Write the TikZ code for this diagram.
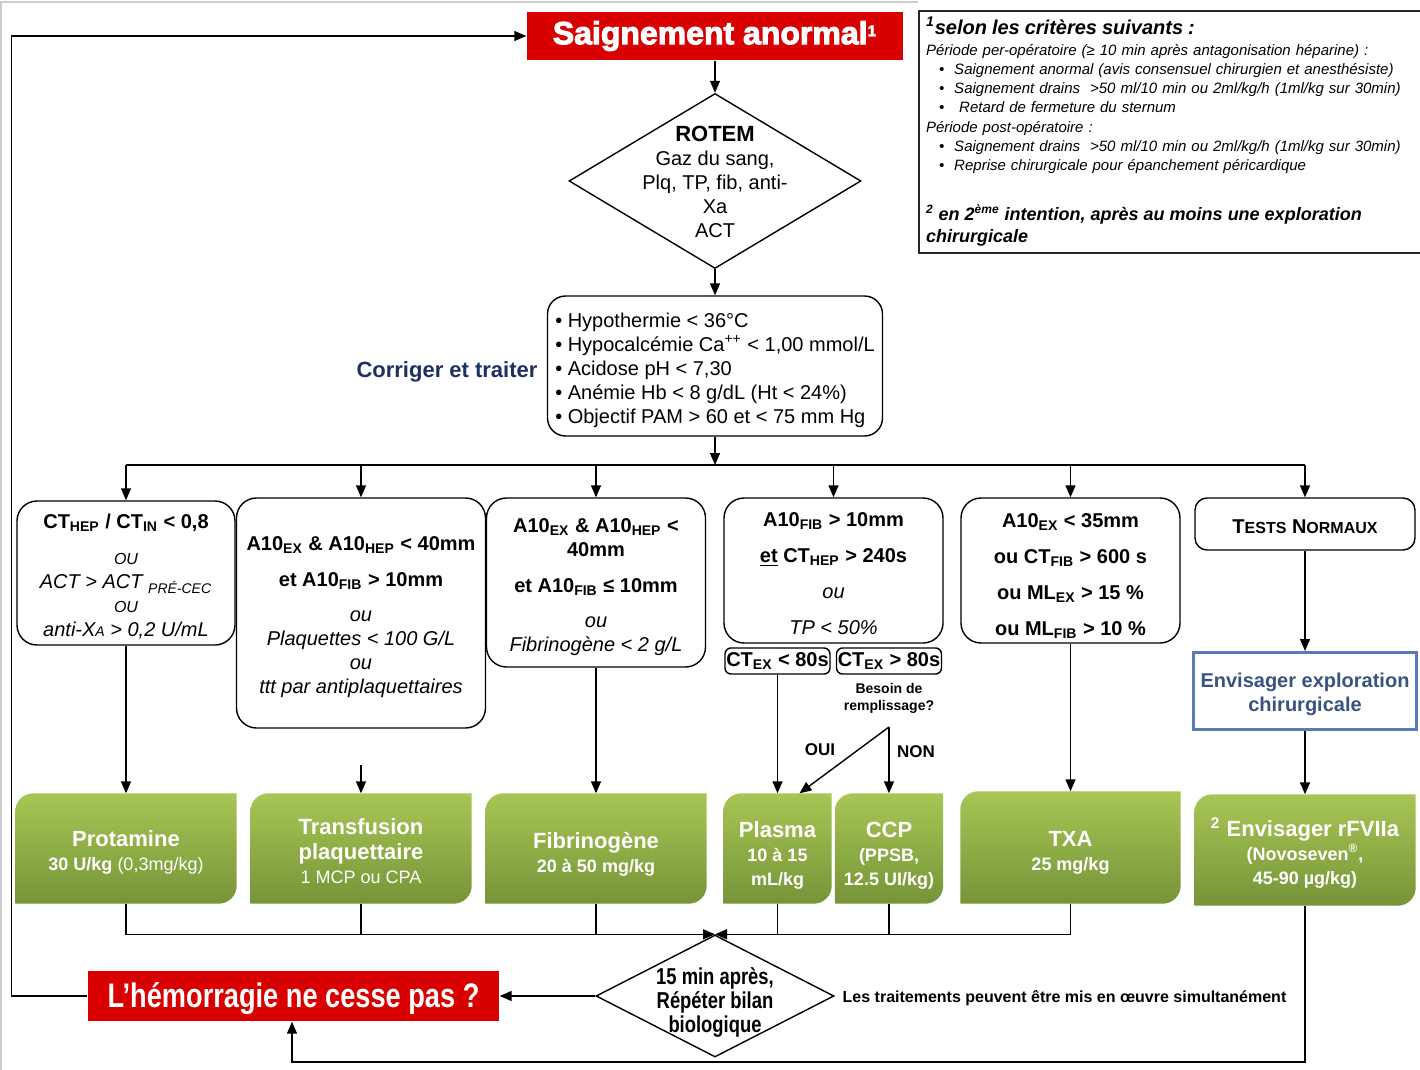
\documentclass[tikz,border=0pt]{standalone}
\usepackage{fontspec}
\setmainfont{Liberation Sans}
\newfontfamily\narrowfont{Liberation Sans}[FakeStretch=0.8]
\newfontfamily\heavyfont{Liberation Sans}[FakeBold=3]
\usetikzlibrary{shapes.geometric,arrows.meta,backgrounds}

\definecolor{alarmred}{RGB}{216,0,0}
\definecolor{leaftop}{RGB}{168,198,84}
\definecolor{leafbot}{RGB}{118,148,56}
\definecolor{navy}{RGB}{30,48,98}
\definecolor{exploblue}{RGB}{88,122,186}
\definecolor{explotext}{RGB}{58,82,128}

\newcommand{\fsz}[2]{\fontsize{#1}{#2}\selectfont}
\newcommand{\lo}[1]{\textsubscript{#1}}
\newcommand{\smc}[1]{{\fsz{8}{10}#1}}
\newcommand{\up}[1]{\rule{0pt}{#1pt}}
% green treatment box: rounded top-left and bottom-right corners
\newcommand{\leafbg}[1]{%
  \shade[top color=leaftop, bottom color=leafbot]
    (#1.south west) -- ([yshift=-9pt]#1.north west)
    arc[start angle=180, end angle=90, radius=9pt]
    -- (#1.north east) -- ([yshift=9pt]#1.south east)
    arc[start angle=0, end angle=-90, radius=9pt] -- cycle;}

\tikzset{
  arr/.style={-{Triangle[length=6pt,width=5pt]}},
  alarm/.style={fill=alarmred, text=white, inner sep=0pt},
  test/.style={diamond, draw, inner sep=0pt},
  crit/.style={draw, rounded corners=10pt, align=center, inner sep=0pt, font=\fsz{10}{12}},
  ctbox/.style={draw, rounded corners=3pt, inner sep=0pt, font=\bfseries\fsz{10}{12},
    minimum width=52.5pt, minimum height=13pt},
  leaf/.style={text=white, align=center, inner sep=0pt, font=\bfseries\fsz{11}{12}},
  tag/.style={font=\bfseries\fsz{8.5}{10}},
}

\begin{document}
\begin{tikzpicture}[x=0.5pt,y=-0.5pt,line width=0.7pt]
\useasboundingbox (0,0) rectangle (1420,1070);
\draw[black!20, line width=0.6pt] (1,1070) -- (1,2) -- (918,2);

% top of the chart
\node[alarm, minimum width=188pt, minimum height=24pt, font=\heavyfont\bfseries\fsz{16}{18}] (start) at (715,36) {Saignement anormal{\fsz{11}{12}\textsuperscript{1}}};
\node[test, minimum width=146pt, minimum height=87.5pt] (rotem) at (715,181)
  {\fsz{10}{12}\makebox[0pt]{\raisebox{-2pt}[\height][\depth]{\begin{tabular}{@{}c@{}}{\bfseries\fsz{11}{12}ROTEM}\\Gaz du sang,\\Plq, TP, fib, anti-\\Xa\\ACT\end{tabular}}}};
\node[draw, rounded corners=9pt, minimum width=167.5pt, minimum height=70pt, align=left, inner sep=0pt, font=\fsz{10}{12}] (check) at (715,366)
  {\up{11.3}\textbullet\ Hypothermie < 36°C\\
   \textbullet\ Hypocalcémie Ca\textsuperscript{++} < 1,00 mmol/L\\
   \textbullet\ Acidose pH < 7,30\\
   \textbullet\ Anémie Hb < 8 g/dL (Ht < 24\%)\\
   \textbullet\ Objectif PAM > 60 et < 75 mm Hg};
\node[font=\bfseries\fsz{11}{13}, text=navy] (fix) at (447,372) {Corriger et traiter};
\coordinate (bar) at (715,465);

% footnotes
\node[draw=black!85, line width=1pt, anchor=north west, minimum width=251pt, minimum height=121pt,
  text width=245pt, inner xsep=3.5pt, inner ysep=0pt, align=left, font=\itshape\fsz{7.5}{9.6}] (note) at (918,10)
  {{\bfseries\fsz{10}{10}\textsuperscript{1}selon les critères suivants :}\\[1pt]
   Période per-opératoire (≥ 10 min après antagonisation héparine) :\\
   \hspace*{6.5pt}\textbullet\hspace{5pt}Saignement anormal (avis consensuel chirurgien et anesthésiste)\\
   \hspace*{6.5pt}\textbullet\hspace{5pt}Saignement drains\ \ >50 ml/10 min ou 2ml/kg/h (1ml/kg sur 30min)\\
   \hspace*{6.5pt}\textbullet\hspace{7.5pt}Retard de fermeture du sternum\\
   Période post-opératoire :\\
   \hspace*{6.5pt}\textbullet\hspace{5pt}Saignement drains\ \ >50 ml/10 min ou 2ml/kg/h (1ml/kg sur 30min)\\
   \hspace*{6.5pt}\textbullet\hspace{5pt}Reprise chirurgicale pour épanchement péricardique\\[14.4pt]
   {\bfseries\fsz{9}{11}\textsuperscript{2} en 2\textsuperscript{ème} intention, après au moins une exploration}\\[1.4pt]
   {\bfseries\fsz{9}{11}chirurgicale}};

% criteria
\node[crit, minimum width=109pt, minimum height=72pt] (c1) at (126,573)
  {\up{10.3}\textbf{CT\lo{HEP} / CT\lo{IN} < 0,8}\\[6pt]
   {\itshape\fsz{8}{12}OU}\\
   \textit{ACT > ACT \lo{PRÉ-CEC}}\\
   {\itshape\fsz{8}{12}OU}\\
   \textit{anti-X{\fsz{7}{12}A} > 0,2 U/mL}};
\node[crit, minimum width=124.5pt, minimum height=115pt] (c2) at (361,613)
  {\up{11.3}\textbf{A10\lo{EX} \& A10\lo{HEP} < 40mm}\\[6pt]
   \textbf{et A10\lo{FIB} > 10mm}\\[5.5pt]
   \textit{ou}\\
   \textit{Plaquettes < 100 G/L}\\
   \textit{ou}\\
   \textit{ttt par antiplaquettaires}};
\node[crit, minimum width=109.5pt, minimum height=84.5pt] (c3) at (596,582.5)
  {\up{11.3}\textbf{A10\lo{EX} \& A10\lo{HEP} <}\\
   \textbf{40mm}\\[6pt]
   \textbf{et A10\lo{FIB} ≤ 10mm}\\[5.5pt]
   \textit{ou}\\
   \textit{Fibrinogène < 2 g/L}};
\node[crit, minimum width=109.5pt, minimum height=72.5pt] (c4) at (833.5,570.5)
  {\up{10.3}\textbf{A10\lo{FIB} > 10mm}\\[6pt]
   \textbf{\underline{et} CT\lo{HEP} > 240s}\\[6pt]
   \textit{ou}\\[6pt]
   \textit{TP < 50\%}};
\node[crit, minimum width=109.5pt, minimum height=72.5pt, font=\bfseries\fsz{10}{12}] (c5) at (1070.5,570.5)
  {\up{12.3}A10\lo{EX} < 35mm\\[6pt]
   ou CT\lo{FIB} > 600 s\\[6pt]
   ou ML\lo{EX} > 15 \%\\[6pt]
   ou ML\lo{FIB} > 10 \%};
\node[crit, rounded corners=6pt, minimum width=110pt, minimum height=26pt] (c6) at (1305,524)
  {\up{9.3}\textbf{T\smc{ESTS} N\smc{ORMAUX}}};

\node[ctbox] (lt80) at (777.5,661) {CT\lo{EX} < 80s};
\node[ctbox] (gt80) at (889,661) {CT\lo{EX} > 80s};
\node[font=\bfseries\fsz{7}{8.5}, align=center] (need) at (889,698) {Besoin de\\remplissage?};
\coordinate (fork) at (889,727);
\node[tag] (oui) at (820,750) {OUI};
\node[tag] (non) at (916,752) {NON};
\node[draw=exploblue, line width=1.5pt, minimum width=108.5pt, minimum height=38.5pt, align=center,
  text=explotext, font=\bfseries\fsz{10}{12}] (explo) at (1305,691) {\up{10.3}Envisager exploration\\chirurgicale};
\coordinate (gap2) at (361,765);

% treatments
\node[leaf, minimum width=110pt, minimum height=54.5pt] (g1) at (126,848.5)
  {\up{12.2}Protamine\\{\fsz{9}{12}30 U/kg \mdseries(0,3mg/kg)}};
\node[leaf, minimum width=110pt, minimum height=54.5pt] (g2) at (361,848.5)
  {\up{10.2}Transfusion\\[0.5pt]plaquettaire\\{\mdseries\fsz{9}{12}1 MCP ou CPA}};
\node[leaf, minimum width=110pt, minimum height=54.5pt] (g3) at (596,848.5)
  {\up{14.2}Fibrinogène\\{\fsz{9}{12}20 à 50 mg/kg}};
\node[leaf, minimum width=53.5pt, minimum height=54.5pt] (g4) at (777.5,848.5)
  {\up{15.2}Plasma\\{\fsz{9}{12}10 à 15}\\{\fsz{9}{12}mL/kg}};
\node[leaf, minimum width=53.5pt, minimum height=54.5pt] (g5) at (889,848.5)
  {\up{15.2}CCP\\{\fsz{9}{12}(PPSB,}\\{\fsz{9}{12}12.5 UI/kg)}};
\node[leaf, minimum width=109.5pt, minimum height=55.5pt] (g6) at (1070.5,847.5)
  {\up{13.2}TXA\\{\fsz{9}{12}25 mg/kg}};
\node[leaf, minimum width=110pt, minimum height=55pt] (g7) at (1305,850)
  {\up{12.5}\textsuperscript{2} Envisager rFVIIa\\{\fsz{9}{12}(Novoseven\textsuperscript{®},}\\{\fsz{9}{12}45-90 µg/kg)}};
\begin{scope}[on background layer]
\foreach \g in {g1,g2,g3,g4,g5,g6,g7} \leafbg{\g};
\end{scope}

% bottom of the chart
\node[test, minimum width=119pt, minimum height=61pt] (redo) at (715,996)
  {\narrowfont\bfseries\fsz{11.5}{12}\makebox[0pt]{\raisebox{-4pt}[\height][\depth]{\begin{tabular}{@{}c@{}}15 min après,\\Répéter bilan\\biologique\end{tabular}}}};
\node[alarm, minimum width=205.5pt, minimum height=25pt, text depth=0.5pt, font=\narrowfont\bfseries\fsz{17}{20}] (again) at (293.5,996) {L’hémorragie ne cesse pas ?};
\node[anchor=west, inner sep=0pt, font=\bfseries\fsz{8}{9}] (simul) at (842,998) {Les traitements peuvent être mis en œuvre simultanément};
\coordinate (low) at (292,1062);

% connectors
\draw[arr] (start) -- (rotem);
\draw[arr] (rotem) -- (check);
\draw[arr] (check) -- (bar);
\draw (c1.north |- bar) -- (c6.north |- bar);
\foreach \c in {c1,c2,c3,c4,c5,c6} \draw[arr] (\c.north |- bar) -- (\c.north);
\draw[arr] (c1) -- (g1);
\draw[arr] (gap2) -- (g2);
\draw[arr] (c3) -- (g3);
\draw[arr] (lt80) -- (g4);
\draw[arr] (fork) -- ([xshift=11pt]g4.north);
\draw[arr] (fork) -- (g5);
\draw[arr] (c5) -- (g6);
\draw[arr] (c6) -- (explo);
\draw[arr] (explo) -- (g7);
\foreach \g in {g2,g3,g4,g5} \draw (\g.south) -- (\g.south |- redo.north);
\draw[arr] (g1.south) |- (redo.north);
\draw[arr] (g6.south) |- (redo.north);
\draw[arr] (redo) -- (again);
\draw[arr] (g7.south) |- (low) -- (low |- again.south);
\draw[arr] (again.west) -- ++(-76,0) |- (start.west);
\end{tikzpicture}
\end{document}
